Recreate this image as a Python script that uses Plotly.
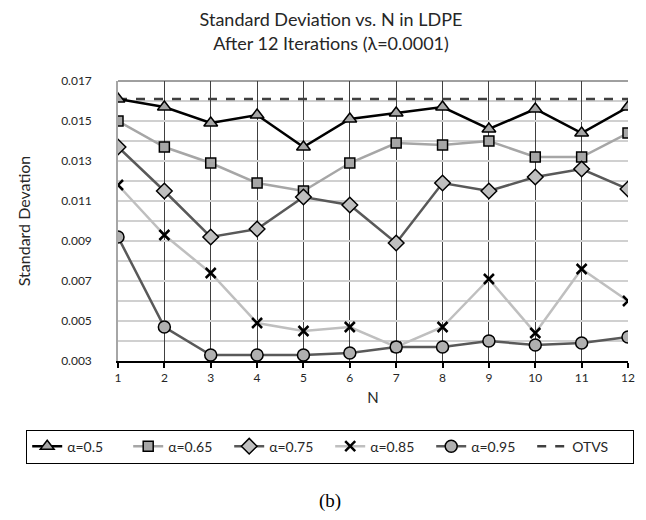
import plotly.graph_objects as go

N = list(range(1, 13))
a050 = [0.0161, 0.0157, 0.0149, 0.0153, 0.0137, 0.0151, 0.0154, 0.0157, 0.0146, 0.0156, 0.0144, 0.0157]
a065 = [0.0150, 0.0137, 0.0129, 0.0119, 0.0115, 0.0129, 0.0139, 0.0138, 0.0140, 0.0132, 0.0132, 0.0144]
a075 = [0.0137, 0.0115, 0.0092, 0.0096, 0.0112, 0.0108, 0.0089, 0.0119, 0.0115, 0.0122, 0.0126, 0.0116]
a085 = [0.0118, 0.0093, 0.0074, 0.0049, 0.0045, 0.0047, 0.0037, 0.0047, 0.0071, 0.0044, 0.0076, 0.0060]
a095 = [0.0092, 0.0047, 0.0033, 0.0033, 0.0033, 0.0034, 0.0037, 0.0037, 0.0040, 0.0038, 0.0039, 0.0042]
otvs = [0.0161] * 12

FONT = "Lato"
fig = go.Figure()

fig.add_trace(go.Scatter(x=N, y=otvs, name="OTVS", mode="lines", legendrank=6,
                         line=dict(color="#404040", width=2.5, dash="dash")))

series = [
    ("α=0.5", a050, "#000000", "triangle-up", "#a6a6a6", 12, 1),
    ("α=0.65", a065, "#a6a6a6", "square", "#a6a6a6", 10, 2),
    ("α=0.75", a075, "#595959", "diamond", "#bfbfbf", 12, 3),
    ("α=0.85", a085, "#bfbfbf", "x-thin", "#000000", 10, 4),
    ("α=0.95", a095, "#595959", "circle", "#b0b0b0", 12, 5),
]
for name, ys, lc, sym, fc, sz, rank in series:
    if sym == "x-thin":
        marker = dict(symbol=sym, size=sz, color=fc, line=dict(color="#000000", width=2.5))
    else:
        marker = dict(symbol=sym, size=sz, color=fc, line=dict(color="#000000", width=1.5))
    fig.add_trace(go.Scatter(x=N, y=ys, name=name, mode="lines+markers", legendrank=rank,
                             line=dict(color=lc, width=2.5), marker=marker))

fig.update_layout(
    width=646, height=520,
    margin=dict(l=110, r=26, t=73, b=167),
    paper_bgcolor="white", plot_bgcolor="white",
    font=dict(family=FONT, size=12, color="#262626"),
    title=dict(text="Standard Deviation vs. N in LDPE<br>After 12 Iterations (λ=0.0001)",
               x=0.5, xanchor="center", yref="container", y=0.965, yanchor="middle",
               font=dict(family=FONT, size=18, color="#262626")),
    showlegend=True,
    legend=dict(orientation="h", x=-0.18, xanchor="left", y=-0.245, yanchor="top",
                bordercolor="#000000", borderwidth=1, font=dict(family=FONT, size=14),
                entrywidth=56, traceorder="normal"),
    xaxis=dict(range=[1, 12], tickmode="linear", dtick=1, showgrid=True,
               gridcolor="#404040", gridwidth=1, showline=True, linecolor="#000000",
               linewidth=2, ticks="outside", ticklen=5, tickcolor="#000000", tickwidth=1.5,
               zeroline=False, tickfont=dict(size=12),
               title=dict(text="N", font=dict(size=15), standoff=8)),
    yaxis=dict(range=[0.003, 0.017], tickmode="linear", tick0=0.003, dtick=0.002,
               tickformat=".3f", showgrid=True, gridcolor="#d0d0d0", gridwidth=1.5,
               minor=dict(dtick=0.001, showgrid=True, gridcolor="#d0d0d0", gridwidth=1.5),
               showline=True, linecolor="#a6a6a6", linewidth=1.5, zeroline=False,
               ticks="", ticklabelstandoff=22, tickfont=dict(size=12),
               title=dict(text="Standard Devation", font=dict(size=16), standoff=27)),
    shapes=[dict(type="line", xref="paper", yref="paper", x0=0, x1=1, y0=1, y1=1,
                 line=dict(color="#404040", width=1))],
    annotations=[dict(text="(b)", xref="paper", yref="paper", x=0.416, y=-0.50,
                      xanchor="center", yanchor="middle", showarrow=False,
                      font=dict(family="Liberation Serif", size=19, color="#000000"))],
)

fig.write_html("out.html")
